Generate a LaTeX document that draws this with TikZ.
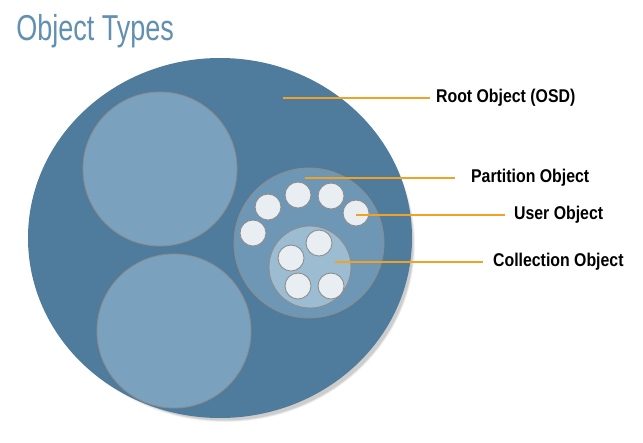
\documentclass[tikz,border=0pt]{standalone}
\usepackage{fontspec}
\setmainfont{Liberation Sans}
\newfontfamily\narrowfont[FakeStretch=0.75]{Liberation Sans}
\newfontfamily\labelfont[FakeStretch=0.86]{Liberation Sans}

\definecolor{rootblue}{HTML}{4F7B9C}
\definecolor{bigblue}{HTML}{7AA2BF}
\definecolor{partblue}{HTML}{6E97B6}
\definecolor{collblue}{HTML}{9CBCD2}
\definecolor{userwhite}{HTML}{E9EEF3}
\definecolor{titleblue}{HTML}{6190B0}
\definecolor{pointer}{HTML}{F0A224}

\begin{document}
\begin{tikzpicture}[x=0.02cm, y=-0.02cm,
  rim/.style={draw=black!45, line width=0.5pt},
  pointerline/.style={pointer, line width=1.4pt},
  tag/.style={anchor=west, font=\labelfont\bfseries\fontsize{10.5}{12}\selectfont, inner sep=1pt}]
\useasboundingbox (0,0) rectangle (643,443);

% Title
\node[anchor=west, text=titleblue, font=\narrowfont\fontsize{20.5}{24}\selectfont, inner sep=0pt] (title) at (16,31) {Object Types};

% Root object (with soft shadow)
\foreach \o in {0.05,0.07,0.09}
  \fill[black, opacity=\o] (225,244) ellipse[x radius=192-40*\o, y radius=180-40*\o];
\fill[rootblue] (220,238) ellipse[x radius=192, y radius=180];

% Big partitions on the left
\coordinate (P1) at (160,169);
\coordinate (P2) at (174,331);
\fill[bigblue, rim] (P1) circle[radius=77];
\fill[bigblue, rim] (P2) circle[radius=77];

% Partition holding the users and the collection
\coordinate (P3) at (309,243);
\fill[partblue, rim] (P3) circle[radius=75];
\coordinate (C) at (310,267);
\fill[collblue, rim] (C) circle[radius=41];

% User objects
\foreach \n/\x/\y in {U1/268/207, U2/298/195, U3/331/196, U4/356/213, U5/253/233,
                      U6/319/243, U7/291/258, U8/298/286, U9/331/286}
  \coordinate (\n) at (\x,\y);
\foreach \n in {U1,U2,U3,U4,U5,U6,U7,U8,U9}
  \fill[userwhite, rim] (\n) circle[radius=13];

% Labels
\node[tag] (root) at (434,98) {Root Object (OSD)};
\node[tag] (part) at (469,178) {Partition Object};
\node[tag] (user) at (512,215) {User Object};
\node[tag] (coll) at (491,262) {Collection Object};

% Pointer lines
\coordinate (rootpt) at (283,98);
\coordinate (partpt) at (305,178);
\coordinate (userpt) at (356,215);
\coordinate (collpt) at (335,262);
\draw[pointerline] (rootpt) -- (root.west -| 430,0);
\draw[pointerline] (partpt) -- (part.west -| 455,0);
\draw[pointerline] (userpt) -- (user.west -| 505,0);
\draw[pointerline] (collpt) -- (coll.west -| 483,0);
\end{tikzpicture}
\end{document}
